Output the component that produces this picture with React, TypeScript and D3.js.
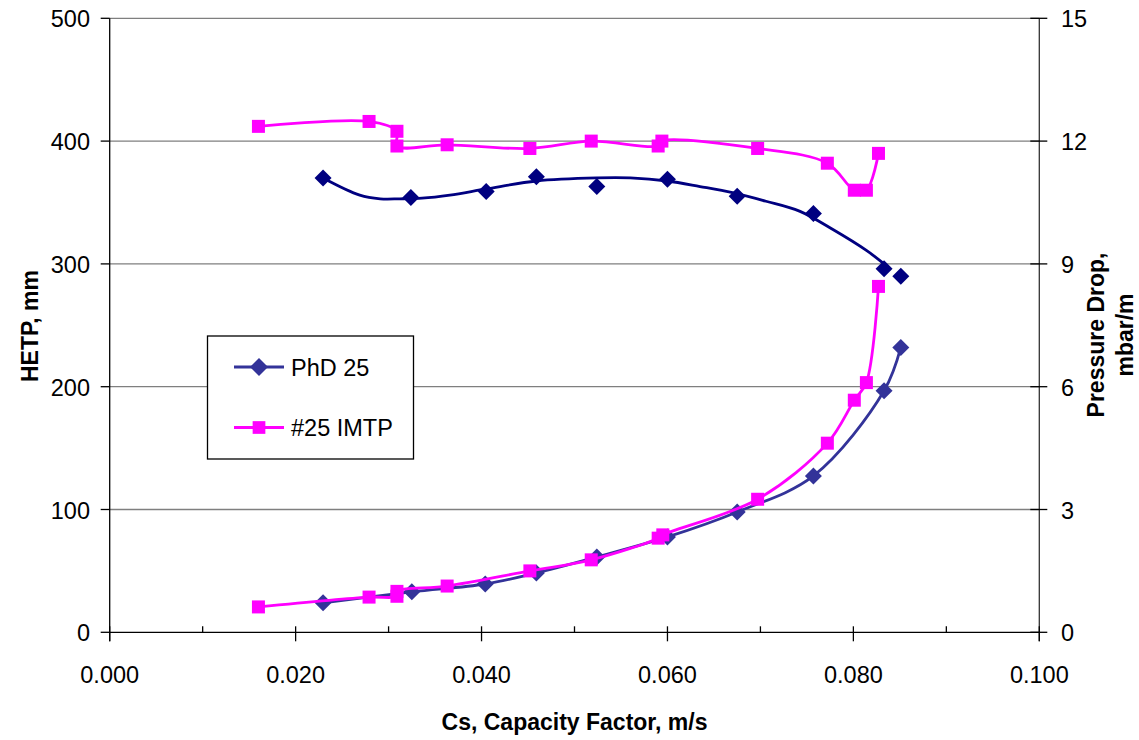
import React from 'react';
import * as d3 from 'd3';

// Capacity factor (m/s) and HETP (mm) – left axis
const csPhdHetp = [0.02295, 0.0324, 0.0405, 0.0459, 0.0524, 0.06, 0.0675, 0.0757, 0.0833, 0.0851];
const hetpPhd = [370, 354, 359, 371, 363, 369, 355, 341, 296, 290];
// smoothed trend drawn through the PhD 25 HETP points
const csPhdHetpFit = [0.02295, 0.0269, 0.0291, 0.0312, 0.0336, 0.0366, 0.0405, 0.0459, 0.0524, 0.056, 0.06, 0.0635, 0.067, 0.0706, 0.0742, 0.0778, 0.0814, 0.0833];
const hetpPhdFit = [370, 356, 353, 353, 353.5, 356, 361, 367.5, 370, 370, 367.5, 363, 358, 351, 343, 328, 311, 300];
const csImtpHetp = [0.016, 0.0279, 0.0309, 0.0309, 0.0363, 0.0452, 0.0518, 0.059, 0.0594, 0.0697, 0.0772, 0.0801, 0.0814, 0.0827];
const hetpImtp = [412, 416, 408, 396, 397, 394, 400, 396, 400, 394, 382, 360, 360, 390];

// Pressure drop (mbar/m) – right axis
const csPhdDp = [0.02295, 0.0325, 0.0404, 0.0459, 0.0524, 0.06, 0.0675, 0.0757, 0.0833, 0.0851];
const dpPhd = [0.72, 0.99, 1.18, 1.45, 1.84, 2.33, 2.94, 3.82, 5.9, 6.96];
const csImtpDp = [0.016, 0.0279, 0.0309, 0.0309, 0.0363, 0.0452, 0.0518, 0.059, 0.0595, 0.0697, 0.0772, 0.0801, 0.0814, 0.0827];
const dpImtp = [0.62, 0.86, 0.88, 1.0, 1.13, 1.5, 1.77, 2.3, 2.38, 3.25, 4.62, 5.67, 6.1, 8.45];

const xTicks = [0, 0.02, 0.04, 0.06, 0.08, 0.1];
const xMinorTicks = [0.01, 0.03, 0.05, 0.07, 0.09];
const yLeftTicks = [0, 100, 200, 300, 400, 500];
const yRightTicks = [0, 3, 6, 9, 12, 15];

const seriesNames = ['PhD 25', '#25 IMTP'];

const W = 1139;
const H = 740;
const L = 109.7, R = 1039.3, T = 18.3, B = 632.3;

const NAVY = '#000080';
const BLUE = '#333399';
const MAG = '#FF00FF';
const FONT = '"Liberation Sans", Arial, sans-serif';

export default function App() {
  const x = d3.scaleLinear().domain([0, 0.1]).range([L, R]);
  const yL = d3.scaleLinear().domain([0, 500]).range([B, T]);
  const yR = d3.scaleLinear().domain([0, 15]).range([B, T]);

  const mk = (xs: number[], ys: number[], ys2: d3.ScaleLinear<number, number>) => {
    const pts: [number, number][] = xs.map((v, i) => [x(v), ys2(ys[i])]);
    const path = d3.line().curve(d3.curveCatmullRom.alpha(0.5))(pts) || '';
    return { pts, path };
  };

  const phdH = mk(csPhdHetp, hetpPhd, yL);
  const phdHFit = mk(csPhdHetpFit, hetpPhdFit, yL);
  const imtpH = mk(csImtpHetp, hetpImtp, yL);
  const phdD = mk(csPhdDp, dpPhd, yR);
  const imtpD = mk(csImtpDp, dpImtp, yR);

  const diamond = (cx: number, cy: number, r: number, color: string, key: any) => (
    <path key={key} d={`M${cx},${cy - r}L${cx + r},${cy}L${cx},${cy + r}L${cx - r},${cy}Z`} fill={color} />
  );
  const square = (cx: number, cy: number, s: number, color: string, key: any) => (
    <rect key={key} x={cx - s / 2} y={cy - s / 2} width={s} height={s} fill={color} />
  );

  const lx = 207.5, ly = 336, lw = 206, lh = 123;

  return (
    <svg width={W} height={H} style={{ position: 'absolute', left: 0, top: 0, background: '#fff' }} fontFamily={FONT}>
      {/* grid */}
      {yLeftTicks.filter(t => t > 0).map(t => (
        <line key={'g' + t} x1={L} x2={R} y1={yL(t)} y2={yL(t)} stroke="#7f7f7f" strokeWidth={1.3} />
      ))}
      {/* axes */}
      <line x1={L} x2={L} y1={T} y2={B + 9} stroke="#000" strokeWidth={1.3} />
      <line x1={R} x2={R} y1={T} y2={B + 9} stroke="#333" strokeWidth={1.3} />
      <line x1={L} x2={R} y1={B} y2={B} stroke="#000" strokeWidth={1.3} />
      {xTicks.map(t => (
        <line key={'xt' + t} x1={x(t)} x2={x(t)} y1={B - 6} y2={B + 9} stroke="#000" strokeWidth={1.3} />
      ))}
      {xMinorTicks.map(t => (
        <line key={'xm' + t} x1={x(t)} x2={x(t)} y1={B - 6} y2={B} stroke="#000" strokeWidth={1.3} />
      ))}
      {yLeftTicks.map(t => (
        <line key={'yl' + t} x1={L - 9} x2={L} y1={yL(t)} y2={yL(t)} stroke="#000" strokeWidth={1.3} />
      ))}
      {yRightTicks.map(t => (
        <line key={'yr' + t} x1={R - 9} x2={R + 8} y1={yR(t)} y2={yR(t)} stroke="#000" strokeWidth={1.3} />
      ))}
      {/* tick labels */}
      {xTicks.map(t => (
        <text key={'xl' + t} x={x(t)} y={683} textAnchor="middle" fontSize={23.5} fill="#000">{d3.format('.3f')(t)}</text>
      ))}
      {yLeftTicks.map(t => (
        <text key={'yll' + t} x={90} y={yL(t) + 9} textAnchor="end" fontSize={23.5} fill="#000">{t}</text>
      ))}
      {yRightTicks.map(t => (
        <text key={'yrl' + t} x={1061} y={yR(t) + 9} textAnchor="start" fontSize={23.5} fill="#000">{t}</text>
      ))}
      {/* axis titles */}
      <text x={(L + R) / 2} y={730} textAnchor="middle" fontSize={23} fontWeight="bold">Cs, Capacity Factor, m/s</text>
      <text transform="translate(38,326) rotate(-90)" textAnchor="middle" fontSize={23} fontWeight="bold">HETP, mm</text>
      <text transform="translate(1104,335) rotate(-90)" textAnchor="middle" fontSize={23} fontWeight="bold">Pressure Drop,</text>
      <text transform="translate(1133,335) rotate(-90)" textAnchor="middle" fontSize={23} fontWeight="bold">mbar/m</text>

      {/* series */}
      <path d={phdHFit.path} fill="none" stroke={NAVY} strokeWidth={2.8} />
      {phdH.pts.map((p, i) => diamond(p[0], p[1], 8.5, NAVY, 'ph' + i))}
      <path d={phdD.path} fill="none" stroke={BLUE} strokeWidth={2.8} />
      {phdD.pts.map((p, i) => diamond(p[0], p[1], 8.5, BLUE, 'pd' + i))}
      <path d={imtpH.path} fill="none" stroke={MAG} strokeWidth={2.8} />
      {imtpH.pts.map((p, i) => square(p[0], p[1], 13, MAG, 'ih' + i))}
      <path d={imtpD.path} fill="none" stroke={MAG} strokeWidth={2.8} />
      {imtpD.pts.map((p, i) => square(p[0], p[1], 13, MAG, 'id' + i))}

      {/* legend */}
      <rect x={lx} y={ly} width={lw} height={lh} fill="#fff" stroke="#000" strokeWidth={1.3} />
      <line x1={234} x2={284} y1={367} y2={367} stroke={BLUE} strokeWidth={2.8} />
      {diamond(259, 367, 9, BLUE, 'lg1')}
      <text x={291} y={375.5} fontSize={23.5}>{seriesNames[0]}</text>
      <line x1={234} x2={284} y1={427.5} y2={427.5} stroke={MAG} strokeWidth={2.8} />
      {square(259, 427.5, 12.7, MAG, 'lg2')}
      <text x={291} y={436} fontSize={23.5}>{seriesNames[1]}</text>
    </svg>
  );
}
